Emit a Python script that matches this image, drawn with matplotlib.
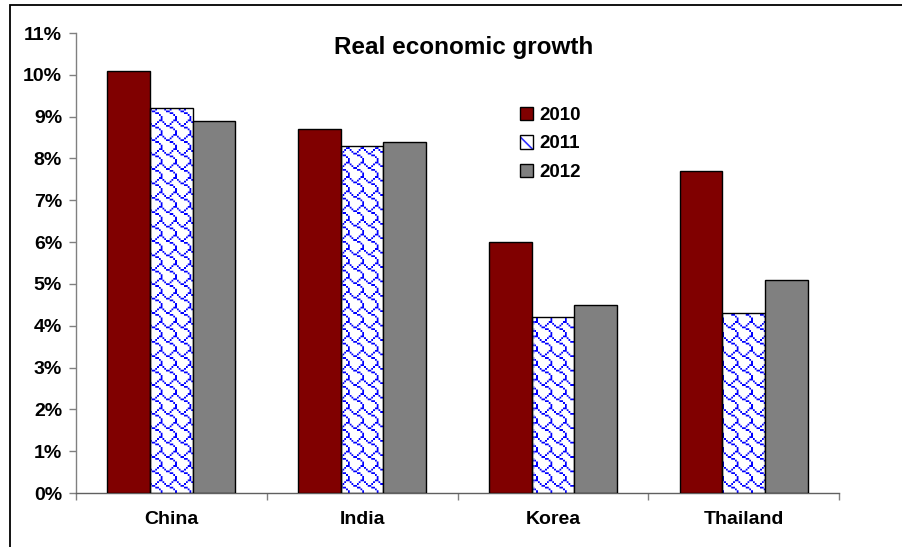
import numpy as np
import matplotlib
matplotlib.use("Agg")
import matplotlib.pyplot as plt
from matplotlib.patches import Patch, Rectangle
from matplotlib.legend_handler import HandlerTuple
from matplotlib.ticker import FixedLocator, FuncFormatter

plt.rcParams['font.family'] = ['Liberation Sans', 'DejaVu Sans']
plt.rcParams['font.weight'] = 'bold'
plt.rcParams['hatch.linewidth'] = 1.2

countries = ["China", "India", "Korea", "Thailand"]
years = ["2010", "2011", "2012"]
growth_2010 = [10.1, 8.7, 6.0, 7.7]
growth_2011 = [9.2, 8.3, 4.2, 4.3]
growth_2012 = [8.9, 8.4, 4.5, 5.1]
y_ticks = list(range(0, 12))

W_PX, H_PX = 902, 547
fig = plt.figure(figsize=(W_PX / 100, H_PX / 100), dpi=100)
ax = fig.add_axes([76 / W_PX, 54 / H_PX, 763 / W_PX, 460 / H_PX])

# frame around the whole chart (only left and top edges fall inside the canvas)
fig.add_artist(Rectangle((10 / W_PX, -0.1), 1.2, 1.1 - 5 / H_PX, transform=fig.transFigure,
                         facecolor='none', edgecolor='black', linewidth=1.3))

x = np.arange(len(countries))
bw = 0.224
xlim = (-0.5, len(countries) - 0.5)
ylim = (0, 11)

ax.bar(x - bw, growth_2010, bw, color='#800000', edgecolor='black', linewidth=1, zorder=3)
bars11 = ax.bar(x, growth_2011, bw, facecolor='none', edgecolor='black', linewidth=1, zorder=3)
ax.bar(x + bw, growth_2012, bw, color='#808080', edgecolor='black', linewidth=1, zorder=3)

# "shingle" fill for the 2011 bars: 8x8 bitmap tiled, scaled and supersampled
shingle = [0x03, 0x84, 0x48, 0x30, 0x0c, 0x02, 0x01, 0x01]
bits = np.array([[(row >> (7 - c)) & 1 for c in range(8)] for row in shingle], dtype=float)
th, tw = 460, 763
ss = 4
scale = 1.8
yy, xx = np.mgrid[0:th * ss, 0:tw * ss] / ss
hi = bits[(yy / scale).astype(int) % 8, (xx / scale).astype(int) % 8]
ink = hi.reshape(th, ss, tw, ss).mean(axis=(1, 3))
tex = np.ones((th, tw, 3))
tex[..., 0] -= ink
tex[..., 1] -= ink
for b in bars11:
    im = ax.imshow(tex, extent=(*xlim, *ylim), origin='upper', aspect='auto',
                   interpolation='nearest', zorder=2)
    im.set_clip_path(b)

ax.set_xlim(*xlim)
ax.set_ylim(*ylim)

ax.set_xticks(x)
ax.set_xticklabels(countries, fontsize=14, fontweight='bold')
ax.tick_params(axis='x', which='major', length=0, pad=13)
ax.xaxis.set_minor_locator(FixedLocator(np.arange(-0.5, len(countries), 1.0)))
ax.tick_params(axis='x', which='minor', length=5, width=1, color='#808080', direction='out')

ax.set_yticks(y_ticks)
ax.yaxis.set_major_formatter(FuncFormatter(lambda v, p: f"{v:.0f}%"))
ax.tick_params(axis='y', length=5, width=1, color='#808080', direction='out', pad=5,
               labelsize=14)
for lab in ax.get_yticklabels():
    lab.set_fontweight('bold')

for s in ['top', 'right']:
    ax.spines[s].set_visible(False)
ax.spines['left'].set_color('#808080')
ax.spines['bottom'].set_color('#606060')
ax.spines['left'].set_linewidth(1)
ax.spines['bottom'].set_linewidth(1)

fig.text(464 / W_PX, 1 - 48 / H_PX, "Real economic growth", ha='center', va='center',
         fontsize=17.5, fontweight='bold')

h2010 = Patch(facecolor='#800000', edgecolor='black', linewidth=1)
h2011 = (Patch(facecolor='white', edgecolor='none'),
         Patch(facecolor='none', edgecolor='#3030ff', hatch='\\\\', linewidth=0),
         Patch(facecolor='none', edgecolor='black', linewidth=1))
h2012 = Patch(facecolor='#808080', edgecolor='black', linewidth=1)
ax.legend([h2010, h2011, h2012], years, handler_map={tuple: HandlerTuple(ndivide=1, pad=0)},
          loc='upper left', bbox_to_anchor=(520 / W_PX, 1 - 107 / H_PX),
          bbox_transform=fig.transFigure, frameon=False,
          prop={'weight': 'bold', 'size': 13.5}, handlelength=0.7, handleheight=0.7,
          handletextpad=0.35, labelspacing=0.6, borderpad=0, borderaxespad=0)

fig.savefig("out.png", dpi=100)
